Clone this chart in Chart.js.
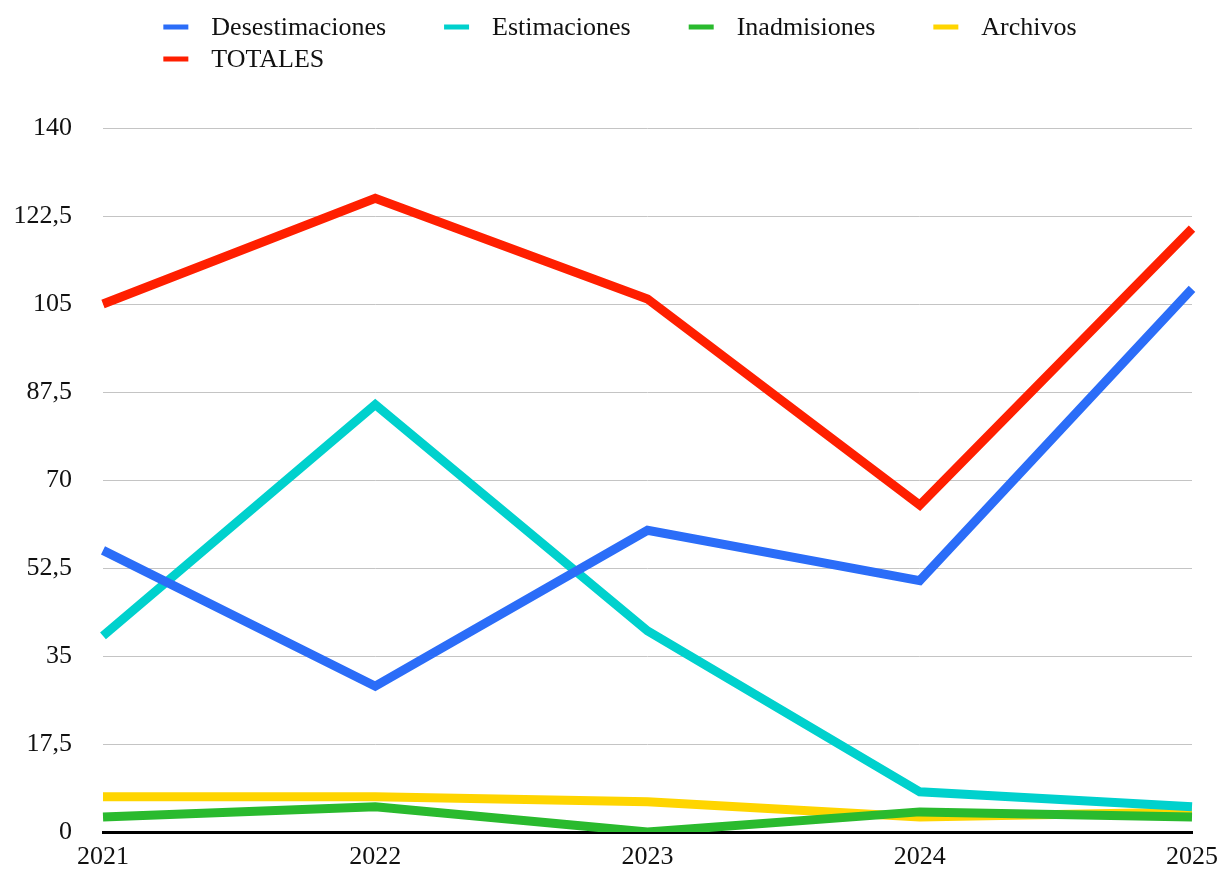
<!DOCTYPE html>
<html lang="es">
<head>
<meta charset="utf-8">
<title>Resoluciones por año</title>
<script src="https://cdn.jsdelivr.net/npm/chart.js@4/dist/chart.umd.min.js"></script>
<style>
  html, body { margin: 0; padding: 0; background: #ffffff; }
  #wrap { width: 1221px; height: 870px; position: relative; }
</style>
</head>
<body>
<div id="wrap"><canvas id="chart" width="1221" height="870"></canvas></div>
<script>
// Años
const years = ['2021', '2022', '2023', '2024', '2025'];

// Series
const desestimaciones = [56, 29, 60, 50, 108];
const estimaciones = [39, 85, 40, 8, 5];
const inadmisiones = [3, 5, 0, 4, 3];
const archivos = [7, 7, 6, 3, 4];
const totales = [105, 126, 106, 65, 120];

// Eje vertical
const yTicks = [0, 17.5, 35, 52.5, 70, 87.5, 105, 122.5, 140];

const FONT = '"Liberation Serif", "DejaVu Serif", serif';

function fmt(v) {
  return String(v).replace('.', ',');
}

// Leyenda dibujada en el lienzo: filas alineadas a la izquierda
const legendPlugin = {
  id: 'leyenda',
  afterDraw(chart) {
    const ctx = chart.ctx;
    const items = chart.data.datasets.map(d => ({ text: d.label, color: d.borderColor }));
    const size = 26;
    const mark = 25, markGap = 23, itemGap = 58, rowH = 32, perRow = 4;
    ctx.save();
    ctx.font = size + 'px ' + FONT;
    ctx.textBaseline = 'middle';
    ctx.textAlign = 'left';
    const widths = items.map(it => mark + markGap + ctx.measureText(it.text).width);
    let row1 = 0;
    for (let i = 0; i < perRow; i++) row1 += widths[i] + (i < perRow - 1 ? itemGap : 0);
    const startX = 620 - row1 / 2;
    let x = startX, y = 27;
    items.forEach((it, i) => {
      if (i > 0 && i % perRow === 0) { x = startX; y += rowH; }
      ctx.fillStyle = it.color;
      ctx.fillRect(x, y - 2.5, mark, 5);
      ctx.fillStyle = '#111111';
      ctx.fillText(it.text, x + mark + markGap, y + 1);
      x += widths[i] + itemGap;
    });
    ctx.restore();
  }
};

function serie(label, data, color) {
  return {
    label, data,
    borderColor: color,
    backgroundColor: color,
    borderWidth: 9,
    pointRadius: 0,
    pointHoverRadius: 0,
    tension: 0,
    fill: false,
    borderJoinStyle: 'miter',
    borderCapStyle: 'butt'
  };
}

new Chart(document.getElementById('chart'), {
  type: 'line',
  data: {
    labels: years,
    datasets: [
      serie('Desestimaciones', desestimaciones, '#2B6DF8'),
      serie('Estimaciones', estimaciones, '#00D1CD'),
      serie('Inadmisiones', inadmisiones, '#2ABA2E'),
      serie('Archivos', archivos, '#FFD500'),
      serie('TOTALES', totales, '#FF1F00')
    ]
  },
  options: {
    responsive: false,
    animation: false,
    events: [],
    layout: { padding: { top: 128, right: 29, bottom: 0, left: 0 } },
    plugins: {
      legend: { display: false },
      tooltip: { enabled: false }
    },
    scales: {
      x: {
        type: 'category',
        offset: false,
        grid: { display: false, drawTicks: false },
        border: { display: true, color: '#000000', width: 3 },
        ticks: {
          color: '#111111',
          font: { family: FONT, size: 26 },
          padding: 10,
          maxRotation: 0,
          autoSkip: false
        },
        afterFit(scale) {
          scale.height = 38;
          scale.paddingLeft = 0;
          scale.paddingRight = 0;
        }
      },
      y: {
        min: 0,
        max: 140,
        afterBuildTicks(scale) { scale.ticks = yTicks.map(v => ({ value: v })); },
        grid: { color: '#c4c4c4', lineWidth: 1, drawTicks: false },
        border: { display: false },
        ticks: {
          color: '#111111',
          font: { family: FONT, size: 26 },
          padding: 31,
          callback: v => fmt(v)
        },
        afterFit(scale) {
          scale.width = 103;
          scale.paddingTop = 0;
          scale.paddingBottom = 0;
        }
      }
    }
  },
  plugins: [legendPlugin]
});
</script>
</body>
</html>
